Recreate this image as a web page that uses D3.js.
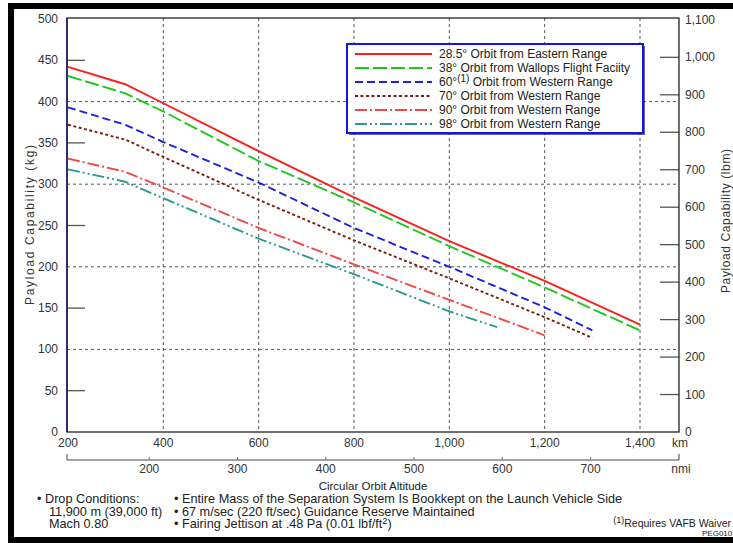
<!DOCTYPE html>
<html>
<head>
<meta charset="utf-8">
<script src="https://cdn.jsdelivr.net/npm/d3@7"></script>
<style>
  html, body { margin: 0; padding: 0; background: #fff; }
  svg { display: block; font-family: "Liberation Sans", Arial, sans-serif; }
</style>
</head>
<body>
<svg id="chart" width="733" height="543"></svg>
<script>
// ---------- data ----------
const kmTicks = [200, 400, 600, 800, 1000, 1200, 1400];
const kmGrid = [400, 600, 800, 1000, 1200, 1400];
const nmiTicks = [200, 300, 400, 500, 600, 700];
const kgTicks = [0, 50, 100, 150, 200, 250, 300, 350, 400, 450, 500];
const kgGrid = [100, 200, 300, 400];
const kgShort = [50, 150, 250, 350, 450];
const lbmTicks = [0, 100, 200, 300, 400, 500, 600, 700, 800, 900, 1000, 1100];

const seriesNames = [
  "28.5\u00b0 Orbit from Eastern Range",
  "38\u00b0 Orbit from Wallops Flight Faciity",
  "60\u00b0(1) Orbit from Western Range",
  "70\u00b0 Orbit from Western Range",
  "90\u00b0 Orbit from Western Range",
  "98\u00b0 Orbit from Western Range"
];
const km285 = [200, 320, 400, 600, 800, 1000, 1200, 1400];
const kg285 = [442, 421, 398, 340, 284, 231, 183, 130];
const km38  = [200, 320, 400, 600, 800, 1000, 1200, 1400];
const kg38  = [431, 410, 388, 328, 278, 225, 175, 123];
const km60  = [200, 320, 400, 600, 800, 1000, 1200, 1300];
const kg60  = [393, 372, 351, 302, 247, 200, 151, 123];
const km70  = [200, 320, 400, 600, 800, 1000, 1200, 1300];
const kg70  = [372, 354, 333, 281, 232, 186, 139, 114];
const km90  = [200, 320, 400, 600, 800, 1000, 1200];
const kg90  = [331, 315, 296, 247, 203, 160, 117];
const km98  = [200, 320, 400, 600, 800, 1000, 1100];
const kg98  = [318, 303, 283, 234, 191, 146, 127];

const seriesKm = [km285, km38, km60, km70, km90, km98];
const seriesKg = [kg285, kg38, kg60, kg70, kg90, kg98];
const seriesColors = ["#ff1e1e", "#1ec81e", "#1e1ee6", "#7a1e14", "#f04848", "#2a9a8c"];
const seriesDash = ["none", "14,4", "8,4", "3,2.5", "12,3,2,3", "12,3,2,3,2,3"];

const KG_PER_LBM = 0.45359237;
const KM_PER_NMI = 1.852;

// ---------- layout ----------
const svg = d3.select("#chart");
const L = 67, R = 679, T = 18, B = 432;
const x = d3.scaleLinear().domain([200, 1400]).range([68, 640]);
const y = d3.scaleLinear().domain([0, 500]).range([B, T + 1]);
const xN = v => x(v * KM_PER_NMI);
const yL = v => y(v * KG_PER_LBM);

// outer frame
svg.append("rect").attr("x", 11).attr("y", 6).attr("width", 740).attr("height", 534)
  .attr("fill", "none").attr("stroke", "#000").attr("stroke-width", 6);

// grid lines
const grid = svg.append("g").attr("stroke", "#555").attr("stroke-width", 1).attr("stroke-dasharray", "3,3");
grid.selectAll("line.v").data(kmGrid).join("line")
  .attr("x1", d => x(d)).attr("x2", d => x(d)).attr("y1", T).attr("y2", B);
grid.selectAll("line.h").data(kgGrid).join("line")
  .attr("x1", L).attr("x2", R).attr("y1", d => y(d)).attr("y2", d => y(d));

// short ticks
svg.append("g").attr("stroke", "#555").attr("stroke-width", 1.3)
  .selectAll("line").data(kgShort).join("line")
  .attr("x1", L).attr("x2", L + 18).attr("y1", d => y(d)).attr("y2", d => y(d));
svg.append("g").attr("stroke", "#555").attr("stroke-width", 1.3)
  .selectAll("line").data(lbmTicks.filter(d => d > 0 && d < 1100)).join("line")
  .attr("x1", R - 19).attr("x2", R).attr("y1", d => yL(d)).attr("y2", d => yL(d));

// plot border
svg.append("rect").attr("x", L).attr("y", T).attr("width", R - L).attr("height", B - T)
  .attr("fill", "none").attr("stroke", "#222").attr("stroke-width", 1.3);
svg.append("line").attr("x1", L).attr("x2", L).attr("y1", T).attr("y2", B)
  .attr("stroke", "#1a1a70").attr("stroke-width", 1.5);

// series lines
const line = d3.line().x(d => x(d[0])).y(d => y(d[1]));
seriesKm.forEach((kms, i) => {
  const pts = kms.map((k, j) => [k, seriesKg[i][j]]);
  svg.append("path").datum(pts).attr("d", line)
    .attr("fill", "none").attr("stroke", seriesColors[i]).attr("stroke-width", 1.9)
    .attr("stroke-dasharray", seriesDash[i]);
});

// left axis labels
svg.append("g").selectAll("text").data(kgTicks).join("text")
  .attr("x", 58).attr("y", d => y(d) + 4).attr("text-anchor", "end")
  .attr("font-size", 12).attr("fill", "#333").text(d => d3.format(",")(d));
// right axis labels
svg.append("g").selectAll("text").data(lbmTicks).join("text")
  .attr("x", 685).attr("y", d => yL(d) + 4).attr("text-anchor", "start")
  .attr("font-size", 12).attr("fill", "#333").text(d => d3.format(",")(d));

// axis titles
svg.append("text").attr("transform", `translate(34,${(T + B) / 2}) rotate(-90)`)
  .attr("text-anchor", "middle").attr("font-size", 12).attr("fill", "#333")
  .attr("textLength", 160).attr("lengthAdjust", "spacing")
  .text("Payload Capability (kg)");
svg.append("text").attr("transform", `translate(730,${(T + B) / 2 - 4}) rotate(-90)`)
  .attr("text-anchor", "middle").attr("font-size", 12).attr("fill", "#333")
  .attr("textLength", 144).attr("lengthAdjust", "spacing")
  .text("Payload Capability (lbm)");

// km labels
svg.append("g").selectAll("text").data(kmTicks).join("text")
  .attr("x", d => x(d)).attr("y", 447).attr("text-anchor", "middle")
  .attr("font-size", 12).attr("fill", "#333").text(d => d3.format(",")(d));
svg.append("text").attr("x", 680).attr("y", 447).attr("text-anchor", "middle")
  .attr("font-size", 12).attr("fill", "#333").text("km");

// nmi axis
svg.append("line").attr("x1", L).attr("x2", R).attr("y1", 460).attr("y2", 460)
  .attr("stroke", "#444").attr("stroke-width", 1);
svg.append("g").attr("stroke", "#444").attr("stroke-width", 1)
  .selectAll("line").data([L, R]).join("line")
  .attr("x1", d => d).attr("x2", d => d).attr("y1", 454).attr("y2", 460);
svg.append("g").attr("stroke", "#777").attr("stroke-width", 1)
  .selectAll("line").data(nmiTicks).join("line")
  .attr("x1", d => xN(d)).attr("x2", d => xN(d)).attr("y1", 457).attr("y2", 460);
svg.append("g").selectAll("text").data(nmiTicks).join("text")
  .attr("x", d => xN(d)).attr("y", 473).attr("text-anchor", "middle")
  .attr("font-size", 12).attr("fill", "#333").text(d => d);
svg.append("text").attr("x", 681).attr("y", 473).attr("text-anchor", "middle")
  .attr("font-size", 12).attr("fill", "#333").text("nmi");

svg.append("text").attr("x", 373).attr("y", 490).attr("text-anchor", "middle")
  .attr("font-size", 11.5).attr("fill", "#222").text("Circular Orbit Altitude");

// legend
const lg = svg.append("g");
lg.append("rect").attr("x", 349).attr("y", 46).attr("width", 296).attr("height", 89)
  .attr("fill", "#000080").attr("opacity", 0.6);
lg.append("rect").attr("x", 347).attr("y", 44).attr("width", 296).attr("height", 89)
  .attr("fill", "#fff").attr("stroke", "#1414e0").attr("stroke-width", 2);
seriesNames.forEach((name, i) => {
  const yy = 54 + i * 14;
  lg.append("line").attr("x1", 355).attr("x2", 432).attr("y1", yy).attr("y2", yy)
    .attr("stroke", seriesColors[i]).attr("stroke-width", 1.9)
    .attr("stroke-dasharray", seriesDash[i]);
  const t = lg.append("text").attr("x", 439).attr("y", yy + 4).attr("font-size", 12).attr("fill", "#222");
  if (i === 2) {
    t.append("tspan").text("60\u00b0");
    t.append("tspan").attr("dy", -4).attr("font-size", 10).text("(1)");
    t.append("tspan").attr("dy", 4).text(" Orbit from Western Range");
  } else {
    t.text(name);
  }
});

// notes
const notes = svg.append("g").attr("font-size", 12.7).attr("fill", "#222");
notes.append("text").attr("x", 37).attr("y", 503).text("\u2022 Drop Conditions:");
notes.append("text").attr("x", 49).attr("y", 516).text("11,900 m (39,000 ft)");
notes.append("text").attr("x", 49).attr("y", 528).text("Mach 0.80");
notes.append("text").attr("x", 174).attr("y", 503).text("\u2022  Entire Mass of the Separation System Is Bookkept on the Launch Vehicle Side");
notes.append("text").attr("x", 174).attr("y", 516).text("\u2022  67 m/sec (220 ft/sec) Guidance Reserve Maintained");
const fj = notes.append("text").attr("x", 174).attr("y", 528);
fj.append("tspan").text("\u2022  Fairing Jettison at .48 Pa (0.01 lbf/ft");
fj.append("tspan").attr("dy", -4).attr("font-size", 9.5).text("2");
fj.append("tspan").attr("dy", 4).text(")");
const rq = notes.append("text").attr("x", 731).attr("y", 527).attr("text-anchor", "end").attr("font-size", 10.5);
rq.append("tspan").attr("dy", -4).attr("font-size", 9).text("(1)");
rq.append("tspan").attr("dy", 4).text("Requires VAFB Waiver");
notes.append("text").attr("x", 702).attr("y", 536).attr("font-size", 8).text("PEG010");
</script>
</body>
</html>
